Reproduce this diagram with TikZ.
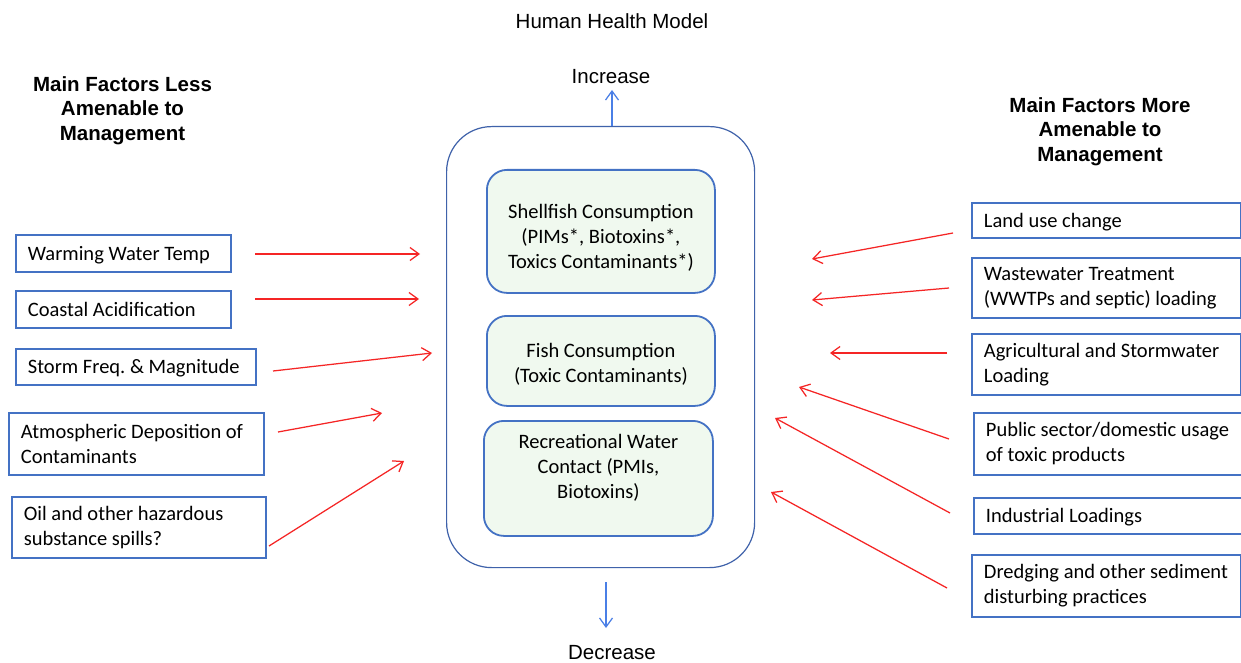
\documentclass[tikz,border=0pt]{standalone}
\usepackage{fontspec}
\setmainfont{Carlito}
\newfontfamily\arialf{Liberation Sans}
\usetikzlibrary{arrows.meta}
\definecolor{boxblue}{HTML}{4472C4}
\definecolor{outerblue}{HTML}{3F62AA}
\definecolor{arrblue}{HTML}{4A7FE6}
\definecolor{innerfill}{HTML}{F0F9EF}
\definecolor{arrred}{HTML}{F52525}
\frenchspacing
\begin{document}
\begin{tikzpicture}[x=1pt,y=-1pt,
  font=\fontsize{20.5}{25}\selectfont\frenchspacing,
  fbox/.style={draw=boxblue, line width=1.8pt, anchor=north west, align=flush left, inner xsep=12pt, inner ysep=0pt},
  oneline/.style={text height=19pt, text depth=5pt},
  ibox/.style={draw=boxblue, line width=1.8pt, fill=innerfill, rounded corners=20pt, align=center, anchor=north west, inner sep=0pt},
  redarr/.style={draw=arrred, line width=1.25pt, -{Straight Barb[length=9pt,width=13pt]}},
  bluearr/.style={draw=arrblue, line width=1.25pt, -{Straight Barb[length=9pt,width=13pt]}},
  head/.style={font=\arialf\bfseries\fontsize{20.5}{24.5}\selectfont, align=center},
  plaintxt/.style={font=\arialf\fontsize{20.5}{25}\selectfont}
]
\path[use as bounding box, fill=white] (0,0) rectangle (1241,663);

% titles
\node[plaintxt] (title) at (612,21.5) {Human Health Model};
\node[head] (hl) at (122.5,110.5) {Main Factors Less\\Amenable to\\Management};
\node[head] (hr) at (1100,131.5) {Main Factors More\\Amenable to\\Management};

% central model
\node[draw=outerblue, line width=1.2pt, rounded corners=45pt, minimum width=308pt, minimum height=441pt, anchor=north west, inner sep=0pt] (outer) at (446,126) {};
\node[ibox, minimum width=228pt, minimum height=123pt] (shell) at (486,169) {\rule{0pt}{28pt}Shellfish Consumption\\(PIMs*, Biotoxins*,\\Toxics Contaminants*)};
\node[ibox, minimum width=228pt, minimum height=90pt] (fish) at (486,315) {\rule{0pt}{21pt}Fish Consumption\\(Toxic Contaminants)};
\node[ibox, minimum width=229pt, minimum height=115pt] (rec) at (483,420) {Recreational Water\\Contact (PMIs,\\Biotoxins)\\\mbox{}};

\node[plaintxt] (inc) at (611,77) {Increase};
\node[plaintxt] (dec) at (612,653) {Decrease};
\coordinate (incS) at (612,126);
\coordinate (incE) at (612,90);
\coordinate (decS) at (606,582);
\coordinate (decE) at (606,628);
\draw[bluearr] (incS) -- (incE);
\draw[bluearr] (decS) -- (decE);

% left boxes
\node[fbox, oneline, text width=191pt, minimum height=37pt] (w1) at (15,234) {Warming Water Temp};
\node[fbox, oneline, text width=191pt, minimum height=37pt] (w2) at (15,290) {Coastal Acidification};
\node[fbox, oneline, text width=216pt, minimum height=36pt] (w3) at (15,348) {Storm Freq. \& Magnitude};
\node[fbox, text width=231pt, minimum height=62pt] (w4) at (8,412) {Atmospheric Deposition of\\Contaminants};
\node[fbox, text width=230pt, minimum height=61pt] (w5) at (11,496) {Oil and other hazardous\\substance spills?};

% right boxes
\node[fbox, oneline, text width=245pt, minimum height=35pt] (m1) at (971,202) {Land use change};
\node[fbox, text width=245pt, minimum height=60pt] (m2) at (971,257) {Wastewater Treatment\\(WWTPs and septic) loading};
\node[fbox, text width=245pt, minimum height=61pt] (m3) at (971,333) {Agricultural and Stormwater\\Loading};
\node[fbox, text width=260pt, minimum height=62pt] (m4) at (973,412) {Public sector/domestic usage\\of toxic products};
\node[fbox, oneline, text width=260pt, minimum height=36pt] (m5) at (973,497) {Industrial Loadings};
\node[fbox, text width=245pt, minimum height=62pt] (m6) at (971,554) {\mbox{Dredging and other sediment}\\\mbox{disturbing practices}};

% left arrows
\coordinate (l1s) at (255,254); \coordinate (l1e) at (420,254);
\coordinate (l2s) at (255,299); \coordinate (l2e) at (419,299);
\coordinate (l3s) at (273,371); \coordinate (l3e) at (432,353);
\coordinate (l4s) at (278,432); \coordinate (l4e) at (382,413);
\coordinate (l5s) at (269,546); \coordinate (l5e) at (404,461);
\draw[redarr] (l1s) -- (l1e);
\draw[redarr] (l2s) -- (l2e);
\draw[redarr] (l3s) -- (l3e);
\draw[redarr] (l4s) -- (l4e);
\draw[redarr] (l5s) -- (l5e);

% right arrows
\coordinate (r1s) at (953,233); \coordinate (r1e) at (812,259);
\coordinate (r2s) at (949,288); \coordinate (r2e) at (812,300);
\coordinate (r3s) at (947,353); \coordinate (r3e) at (830,353);
\coordinate (r4s) at (949,439); \coordinate (r4e) at (799,387);
\coordinate (r5s) at (950,513); \coordinate (r5e) at (775,418);
\coordinate (r6s) at (947,588); \coordinate (r6e) at (771,492);
\draw[redarr] (r1s) -- (r1e);
\draw[redarr] (r2s) -- (r2e);
\draw[redarr] (r3s) -- (r3e);
\draw[redarr] (r4s) -- (r4e);
\draw[redarr] (r5s) -- (r5e);
\draw[redarr] (r6s) -- (r6e);
\end{tikzpicture}
\end{document}
